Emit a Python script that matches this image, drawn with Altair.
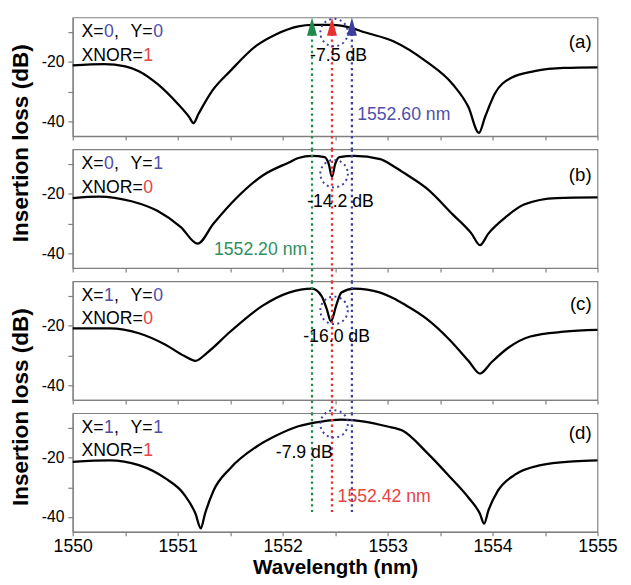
import altair as alt
import pandas as pd

# ---- data ----
wl_a = [1550.00, 1550.30, 1550.50, 1550.63, 1550.81, 1551.00, 1551.11, 1551.15, 1551.20, 1551.33, 1551.50,
        1551.75, 1551.93, 1552.15, 1552.28, 1552.47, 1552.66, 1552.78, 1553.06, 1553.37, 1553.62, 1553.77,
        1553.87, 1553.93, 1554.02, 1554.18, 1554.40, 1554.68, 1555.00]
il_a = [-21.2, -20.7, -21.5, -23.1, -27.5, -34.1, -38.6, -40.6, -37.4, -29.7, -23.1,
        -14.5, -10.8, -8.0, -7.5, -7.5, -8.6, -10.0, -13.1, -19.9, -27.5, -35.2,
        -43.9, -38.4, -30.8, -25.3, -23.1, -22.0, -21.8]

wl_b = [1550.00, 1550.25, 1550.56, 1550.81, 1551.03, 1551.19, 1551.34, 1551.56, 1551.81, 1552.06, 1552.15,
        1552.28, 1552.40, 1552.44, 1552.47, 1552.50, 1552.54, 1552.68, 1552.93, 1553.06, 1553.15, 1553.37,
        1553.62, 1553.80, 1553.88, 1553.96, 1554.12, 1554.30, 1554.61, 1555.00]
il_b = [-21.4, -20.9, -22.5, -25.8, -31.2, -36.8, -30.1, -21.4, -13.8, -9.4, -7.9,
        -7.2, -7.6, -10.0, -14.2, -10.0, -7.6, -7.2, -8.3, -10.8, -12.8, -18.1,
        -26.9, -33.4, -37.3, -33.4, -28.0, -23.6, -21.4, -21.2]

wl_c = [1550.00, 1550.35, 1550.63, 1550.88, 1551.06, 1551.17, 1551.28, 1551.50, 1551.81, 1552.06, 1552.28,
        1552.37, 1552.42, 1552.46, 1552.51, 1552.56, 1552.68, 1552.93, 1553.06, 1553.15, 1553.37, 1553.59,
        1553.77, 1553.88, 1553.99, 1554.15, 1554.36, 1554.68, 1555.00]
il_c = [-20.9, -20.9, -22.5, -26.3, -30.1, -31.8, -29.1, -22.0, -13.2, -8.8, -7.5,
        -9.9, -14.3, -18.5, -13.2, -8.8, -7.5, -8.8, -10.8, -12.6, -17.6, -24.7,
        -31.8, -36.1, -32.3, -27.4, -23.6, -22.0, -21.4]

wl_d = [1550.00, 1550.35, 1550.63, 1550.88, 1551.06, 1551.17, 1551.22, 1551.26, 1551.34, 1551.50, 1551.75,
        1551.93, 1552.15, 1552.37, 1552.56, 1552.78, 1552.99, 1553.15, 1553.37, 1553.59, 1553.77, 1553.88,
        1553.92, 1553.96, 1554.05, 1554.21, 1554.46, 1554.77, 1555.00]
il_d = [-21.4, -20.9, -22.5, -26.9, -32.3, -38.9, -43.8, -38.9, -31.2, -23.6, -16.3,
        -12.7, -9.4, -7.8, -7.2, -7.8, -9.4, -11.0, -18.1, -26.3, -33.4, -38.9,
        -42.2, -37.8, -31.2, -25.8, -22.5, -21.2, -20.9]

curves_wl = [wl_a, wl_b, wl_c, wl_d]
curves_il = [il_a, il_b, il_c, il_d]

# marker wavelengths (as drawn) and their colours
mark_wl = [1552.28, 1552.47, 1552.66]
mark_col = ["#1f8a4c", "#e8312f", "#3d3d9e"]
rule_top = [-10.5, -5.0, -5.0, -5.0]
rule_bot = [-49.5, -49.5, -49.5, -38.3]
circle_wl = 1552.49
circle_il = [-10.1, -13.2, -14.8, -8.6]
tri_il = -8.1

states = [("0", "0", "1"), ("0", "1", "0"), ("1", "0", "0"), ("1", "1", "1")]
tags = ["(a)", "(b)", "(c)", "(d)"]
db_text = ["-7.5 dB", "-14.2 dB", "-16.0 dB", "-7.9 dB"]

x_ticks = [1550, 1550.5, 1551, 1551.5, 1552, 1552.5, 1553, 1553.5, 1554, 1554.5, 1555]
y_ticks = [-40, -30, -20, -10]

# ---- styling ----
FONT = "Liberation Sans"
W, H = 535, 121
GAP = 13.5
AX = "#808080"
BLUE_T = "#4f4faa"
RED_T = "#e84444"
GREEN_T = "#2f8f60"

xscale = alt.Scale(domain=[1550, 1555], nice=False, zero=False)
yscale = alt.Scale(domain=[-45, -5], nice=False, zero=False)

one = alt.Data(values=[{}])


def txt(s, px, py, color="black", size=18, align="left", weight="normal"):
    return alt.Chart(one).mark_text(
        text=s, font=FONT, fontSize=size, fontWeight=weight, color=color,
        align=align, baseline="alphabetic"
    ).encode(x=alt.value(px), y=alt.value(py))


def panel(i):
    df = pd.DataFrame({"wl": curves_wl[i], "il": curves_il[i]})
    bottom = i == 3
    xaxis = alt.Axis(
        values=x_ticks, labels=bottom, tickSize=4, labelPadding=2,
        labelFlush=False, labelOverlap=False,
        labelExpr="datum.value % 1 == 0 ? '' + datum.value : ''",
        labelFontSize=18, labelFont=FONT, labelColor="black",
        title="Wavelength (nm)" if bottom else "",
        titleFont=FONT, titleFontSize=21, titleFontWeight="bold", titlePadding=1, titleColor="black",
    )
    yargs = dict(
        values=y_ticks, tickSize=5, labelPadding=4,
        labelFlush=False, labelOverlap=False,
        labelExpr="datum.value % 20 == 0 ? '' + datum.value : ''",
        labelFontSize=16, labelFont=FONT, labelColor="black",
    )
    if i in (0, 2):
        yargs.update(title="Insertion loss (dB)", titleFont=FONT, titleFontSize=23,
                     titleFontWeight="bold", titleColor="black", titleX=-41, titleY=H + GAP / 2,
                     titleAngle=270, titleAlign="center", titleBaseline="bottom")
    else:
        yargs.update(title="")
    yaxis = alt.Axis(**yargs)

    X = alt.X("wl:Q", scale=xscale, axis=xaxis)
    Y = alt.Y("il:Q", scale=yscale, axis=yaxis)

    curve = alt.Chart(df).mark_line(color="black", strokeWidth=2.3, interpolate="monotone").encode(
        x=X, y=Y,
    )

    rdf = pd.DataFrame({"wl": mark_wl, "c": mark_col,
                        "il": [rule_top[i]] * 3, "il2": [rule_bot[i]] * 3})
    rules = alt.Chart(rdf).mark_rule(strokeDash=[2.4, 3.4], strokeWidth=2.3, strokeCap="butt").encode(
        x=X, y=Y, y2="il2:Q",
        color=alt.Color("c:N", scale=None),
    )

    cdf = pd.DataFrame({"wl": [circle_wl], "il": [circle_il[i]]})
    circ = alt.Chart(cdf).mark_point(shape="circle", filled=False, size=784, strokeDash=[2, 3.5],
                                     strokeWidth=2, color="#3d3d9e", opacity=1).encode(
        x=X, y=Y,
    )

    layers = [curve, rules, circ]

    if i == 0:
        tdf = pd.DataFrame({"wl": mark_wl, "il": [tri_il] * 3, "c": mark_col})
        tri = alt.Chart(tdf).mark_point(shape="M0,-1L0.55,1L-0.55,1Z", filled=True, size=340,
                                        opacity=1, strokeWidth=0).encode(
            x=X, y=Y,
            color=alt.Color("c:N", scale=None),
        )
        layers.append(tri)

    xs, ys, xn = states[i]
    l1, l2 = 20, 44
    layers += [
        txt("X=", 9, l1), txt(xs, 32, l1, BLUE_T), txt(",", 42, l1),
        txt("Y=", 59, l1), txt(ys, 82, l1, BLUE_T),
        txt("XNOR=", 9, l2), txt(xn, 72, l2, RED_T),
    ]
    tag_y = [31, 32, 29, 26][i]
    layers.append(txt(tags[i], 529, tag_y, size=19, align="right"))
    db_pos = [(242, 44), (239, 59), (235, 62), (207, 46)][i]
    layers.append(txt(db_text[i], db_pos[0], db_pos[1]))
    if i == 0:
        layers.append(txt("1552.60 nm", 290, 105, BLUE_T))
    if i == 1:
        layers.append(txt("1552.20 nm", 239, 108, GREEN_T, align="right"))
    if i == 3:
        layers.append(txt("1552.42 nm", 270, 91, RED_T))

    return alt.layer(*layers).properties(width=W, height=H)


chart = alt.vconcat(*[panel(i) for i in range(4)], spacing=GAP, bounds="flush").properties(
    padding={"left": 1, "top": 0, "right": 5, "bottom": 0}
).configure_view(stroke=AX, strokeWidth=1.2).configure_axis(
    grid=False, domainColor=AX, tickColor=AX, domainWidth=1.2, tickWidth=1.2
)

chart.save("out.html", embed_options={"renderer": "svg", "actions": False})
